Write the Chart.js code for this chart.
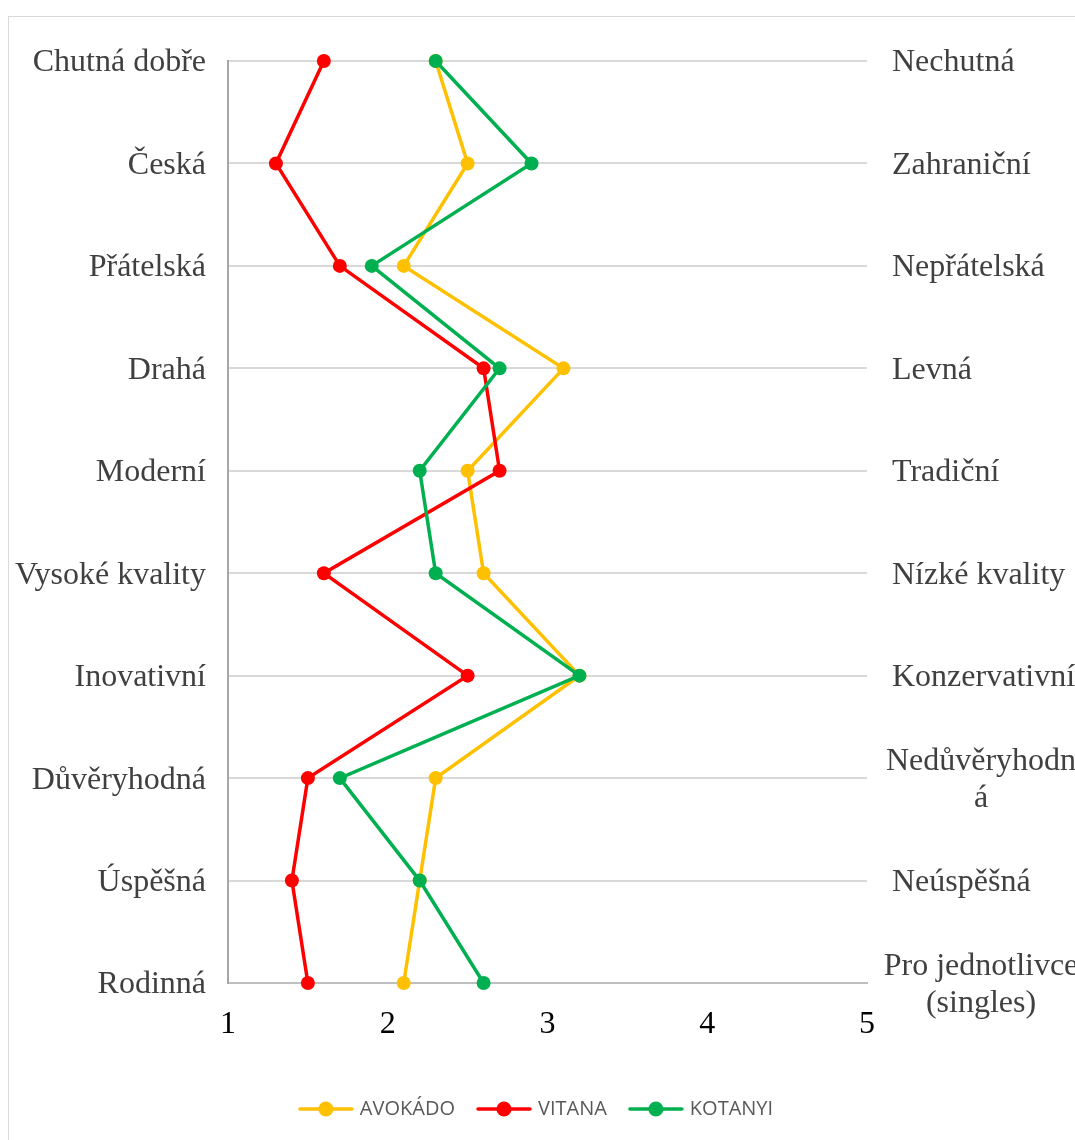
<!DOCTYPE html>
<html>
<head>
<meta charset="utf-8">
<script src="https://cdn.jsdelivr.net/npm/chart.js@4.4.1/dist/chart.umd.min.js"></script>
<style>
  html, body { margin: 0; padding: 0; background: #fff; overflow: hidden; }
  #frame { position: absolute; left: 8px; top: 16px; width: 1200px; height: 1200px; border: 1px solid #d9d9d9; }
  #chart { position: absolute; left: 0; top: 0; }
</style>
</head>
<body>
<div id="frame"></div>
<canvas id="chart" width="1075" height="1140"></canvas>
<script>
const leftLabels = ['Chutná dobře', 'Česká', 'Přátelská', 'Drahá', 'Moderní', 'Vysoké kvality', 'Inovativní', 'Důvěryhodná', 'Úspěšná', 'Rodinná'];
const rightLabels = ['Nechutná', 'Zahraniční', 'Nepřátelská', 'Levná', 'Tradiční', 'Nízké kvality', 'Konzervativní', ['Nedůvěryhodn', 'á'], 'Neúspěšná', ['Pro jednotlivce', '(singles)']];
const xTicks = [1, 2, 3, 4, 5];

const seriesNames = ['AVOKÁDO', 'VITANA', 'KOTANYI'];
const avokado = [2.3, 2.5, 2.1, 3.1, 2.5, 2.6, 3.2, 2.3, 2.2, 2.1];
const vitana  = [1.6, 1.3, 1.7, 2.6, 2.7, 1.6, 2.5, 1.5, 1.4, 1.5];
const kotanyi = [2.3, 2.9, 1.9, 2.7, 2.2, 2.3, 3.2, 1.7, 2.2, 2.6];
const colors = ['#ffc000', '#ff0000', '#00b050'];

const serif = '"Liberation Serif", "Times New Roman", serif';

// legend marker: short line with a dot, like the office legend
function legendMarker(color) {
  const c = document.createElement('canvas');
  c.width = 56; c.height = 16;
  const g = c.getContext('2d');
  g.strokeStyle = color; g.lineWidth = 3.5; g.lineCap = 'round';
  g.beginPath(); g.moveTo(2, 8); g.lineTo(54, 8); g.stroke();
  g.fillStyle = color;
  g.beginPath(); g.arc(28, 8, 7.5, 0, Math.PI * 2); g.fill();
  return c;
}
const markers = colors.map(legendMarker);

const rightLabelsPlugin = {
  id: 'rightLabels',
  afterDraw(chart) {
    const { ctx, chartArea, scales: { y } } = chart;
    ctx.save();
    ctx.font = '32px ' + serif;
    ctx.fillStyle = '#404040';
    ctx.textBaseline = 'middle';
    rightLabels.forEach((label, i) => {
      const py = y.getPixelForTick(i) + 2;
      if (Array.isArray(label)) {
        ctx.textAlign = 'center';
        label.forEach((line, j) => {
          ctx.fillText(line, chartArea.right + 114, py + (j - (label.length - 1) / 2) * 37);
        });
      } else {
        ctx.textAlign = 'left';
        ctx.fillText(label, chartArea.right + 25, py);
      }
    });
    ctx.restore();
  }
};

function makeDataset(name, data, color, order) {
  return {
    label: name,
    data,
    borderColor: color,
    backgroundColor: color,
    borderWidth: 3.5,
    pointRadius: 7,
    pointBorderWidth: 0,
    pointBackgroundColor: color,
    tension: 0,
    clip: false,
    order
  };
}

new Chart(document.getElementById('chart'), {
  type: 'line',
  data: {
    labels: leftLabels,
    datasets: [
      makeDataset(seriesNames[0], avokado, colors[0], 3),
      makeDataset(seriesNames[1], vitana, colors[1], 2),
      makeDataset(seriesNames[2], kotanyi, colors[2], 1)
    ]
  },
  options: {
    indexAxis: 'y',
    responsive: false,
    animation: false,
    layout: { padding: { top: 61, left: 0, right: 0, bottom: 11 } },
    scales: {
      x: {
        type: 'linear',
        min: 1,
        max: 5,
        afterBuildTicks: s => { s.ticks = xTicks.map(v => ({ value: v })); },
        afterFit: s => { s.height = 91; },
        grid: { display: false },
        border: { display: true, color: '#bfbfbf', width: 2 },
        ticks: { color: '#000', padding: 14, font: { family: serif, size: 32 } }
      },
      y: {
        type: 'category',
        offset: false,
        afterFit: s => { s.width = 228; },
        grid: { color: '#d9d9d9', lineWidth: 2, drawTicks: false },
        border: { display: true, color: '#a6a6a6', width: 2 },
        ticks: { color: '#404040', padding: 22, labelOffset: 2, font: { family: serif, size: 32 } }
      },
      yRight: {
        type: 'category',
        position: 'right',
        labels: rightLabels.map(l => Array.isArray(l) ? l.join(' ') : l),
        afterFit: s => { s.width = 208; },
        grid: { display: false },
        border: { display: false },
        ticks: { display: false }
      }
    },
    plugins: {
      tooltip: { enabled: false },
      legend: {
        position: 'bottom',
        labels: {
          usePointStyle: true,
          pointStyleWidth: 48,
          padding: 25,
          color: '#595959',
          font: { family: '"Open Sans", sans-serif', size: 20 },
          sort: (a, b) => a.datasetIndex - b.datasetIndex,
          generateLabels(chart) {
            const items = Chart.defaults.plugins.legend.labels.generateLabels(chart);
            items.forEach(it => { it.pointStyle = markers[it.datasetIndex]; });
            return items;
          }
        }
      }
    }
  },
  plugins: [rightLabelsPlugin]
});
</script>
</body>
</html>
